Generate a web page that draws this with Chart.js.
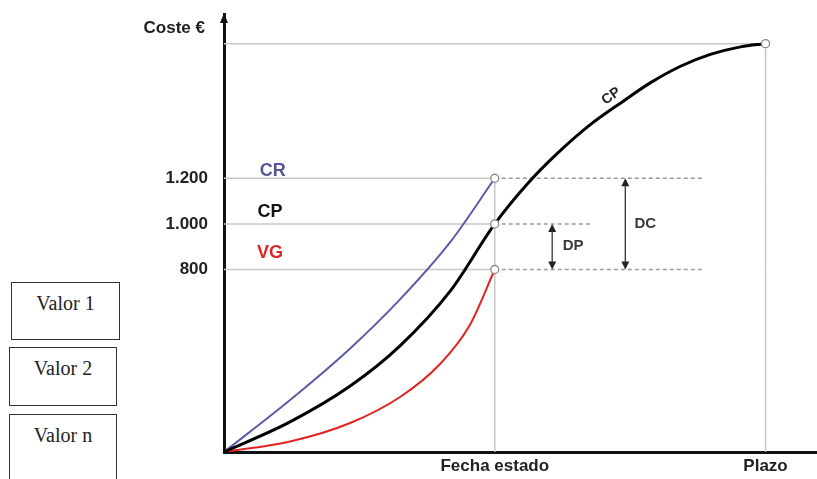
<!DOCTYPE html>
<html>
<head>
<meta charset="utf-8">
<script src="https://cdn.jsdelivr.net/npm/chart.js@4.4.1/dist/chart.umd.min.js"></script>
<style>
  body { margin: 0; background: #fff; overflow: hidden; }
  #wrap { position: relative; width: 817px; height: 479px; overflow: hidden; }
  #evChart { position: absolute; left: 0; top: 0; }
  .box { position: absolute; border: 1.5px solid #333; box-sizing: border-box;
         font-family: "Liberation Serif", "Times New Roman", serif; font-size: 20px;
         color: #222; text-align: center; padding-top: 9px; background: #fff; }
</style>
</head>
<body>
<div id="wrap">
  <canvas id="evChart" width="817" height="479"></canvas>
  <div class="box" style="left:11px; top:282px; width:109px; height:58px;">Valor 1</div>
  <div class="box" style="left:9px; top:347px; width:108px; height:59px;">Valor 2</div>
  <div class="box" style="left:9px; top:414px; width:108px; height:80px;">Valor n</div>
</div>
<script>
// tiempo (Plazo = 10) y coste
const xTicks = [5, 10];
const xTickLabels = ['Fecha estado', 'Plazo'];
const yTicks = [800, 1000, 1200];
const yTickLabels = ['800', '1.000', '1.200'];

const cpTime = [0, 1.22, 2.33, 3.25, 4.18, 5, 5.6, 6.16, 6.77, 7.38, 7.87, 8.43, 8.98, 9.54, 10];
const cpCost = [0, 132, 289, 465, 706, 1000, 1175, 1310, 1436, 1539, 1618, 1691, 1743, 1776, 1790];

const crTime = [0, 1.22, 2.33, 3.25, 4.18, 5];
const crCost = [0, 228, 454, 669, 921, 1200];

const vgTime = [0, 1.22, 2.33, 3.25, 3.99, 4.54, 5];
const vgCost = [0, 46, 127, 241, 386, 557, 800];

const markTime = [5, 5, 5, 10];
const markCost = [800, 1000, 1200, 1790];

const toPts = (xs, ys) => xs.map((x, i) => ({ x: x, y: ys[i] }));
const FONT = '"Liberation Sans", Arial, sans-serif';

function arrowHead(c, x, y, dir) {
    c.beginPath();
    c.moveTo(x, y);
    c.lineTo(x - 4, y - 8 * dir);
    c.lineTo(x + 4, y - 8 * dir);
    c.closePath();
    c.fill();
}

const refLines = {
    id: 'refLines',
    beforeDatasetsDraw(chart) {
        const c = chart.ctx, xs = chart.scales.x, ys = chart.scales.y;
        const X = v => xs.getPixelForValue(v), Y = v => ys.getPixelForValue(v);
        c.save();
        c.strokeStyle = '#c8c8c8';
        c.lineWidth = 1.5;
        c.beginPath();
        yTicks.forEach(v => { c.moveTo(X(0), Y(v)); c.lineTo(X(5), Y(v)); });
        c.moveTo(X(0), Y(1790)); c.lineTo(X(10), Y(1790));
        c.moveTo(X(5), Y(0)); c.lineTo(X(5), Y(1200));
        c.moveTo(X(10), Y(0)); c.lineTo(X(10), Y(1790));
        c.stroke();

        c.strokeStyle = '#9a9a9a';
        c.setLineDash([4, 3]);
        c.beginPath();
        c.moveTo(X(5), Y(1200)); c.lineTo(X(8.84), Y(1200));
        c.moveTo(X(5), Y(1000)); c.lineTo(X(6.8), Y(1000));
        c.moveTo(X(5), Y(800)); c.lineTo(X(8.84), Y(800));
        c.stroke();
        c.setLineDash([]);
        c.restore();
    },
    afterDatasetsDraw(chart) {
        const c = chart.ctx, xs = chart.scales.x, ys = chart.scales.y;
        const X = v => xs.getPixelForValue(v), Y = v => ys.getPixelForValue(v);
        c.save();
        // flechas DP y DC
        c.strokeStyle = '#222';
        c.fillStyle = '#222';
        c.lineWidth = 1.2;
        [[6.06, 1000, 800], [7.41, 1200, 800]].forEach(([x, top, bot]) => {
            c.beginPath();
            c.moveTo(X(x), Y(top) + 4); c.lineTo(X(x), Y(bot) - 4);
            c.stroke();
            arrowHead(c, X(x), Y(top), -1);
            arrowHead(c, X(x), Y(bot), 1);
        });
        c.fillStyle = '#3a3a3a';
        c.font = 'bold 15px ' + FONT;
        c.textAlign = 'center';
        c.textBaseline = 'middle';
        c.fillText('DP', X(6.06) + 21, (Y(1000) + Y(800)) / 2 - 1);
        c.fillText('DC', X(7.41) + 20, Y(1000));

        // etiquetas de series
        c.font = 'bold 18px ' + FONT;
        c.fillStyle = '#55559a';
        c.fillText('CR', X(0.9), Y(1200) - 7);
        c.fillStyle = '#111';
        c.fillText('CP', X(0.85), Y(1000) - 12);
        c.fillStyle = '#e02424';
        c.fillText('VG', X(0.85), Y(800) - 16);

        // CP sobre la curva
        c.save();
        c.translate(X(7.15), Y(1560));
        c.rotate(-0.62);
        c.font = 'bold 14px ' + FONT;
        c.fillStyle = '#222';
        c.fillText('CP', 0, 0);
        c.restore();

        // eje Y con flecha y título
        const ax = xs.left;
        c.fillStyle = '#111';
        c.beginPath();
        c.moveTo(ax, chart.chartArea.top - 1);
        c.lineTo(ax - 4, chart.chartArea.top + 9);
        c.lineTo(ax + 4, chart.chartArea.top + 9);
        c.closePath();
        c.fill();
        c.font = 'bold 17px ' + FONT;
        c.fillStyle = '#222';
        c.textAlign = 'right';
        c.fillText('Coste €', ax - 19, chart.chartArea.top + 14);
        c.restore();
    }
};

const ctx = document.getElementById('evChart').getContext('2d');
new Chart(ctx, {
    type: 'line',
    data: {
        datasets: [
            {
                label: 'marcas',
                data: toPts(markTime, markCost),
                showLine: false,
                pointRadius: 4,
                pointBackgroundColor: '#fff',
                pointBorderColor: '#8a8a8a',
                pointBorderWidth: 1.3
            },
            {
                label: 'CP',
                data: toPts(cpTime, cpCost),
                borderColor: '#000',
                borderWidth: 3,
                pointRadius: 0,
                cubicInterpolationMode: 'monotone'
            },
            {
                label: 'CR',
                data: toPts(crTime, crCost),
                borderColor: '#5b5ba6',
                borderWidth: 2,
                pointRadius: 0,
                cubicInterpolationMode: 'monotone'
            },
            {
                label: 'VG',
                data: toPts(vgTime, vgCost),
                borderColor: '#e32222',
                borderWidth: 2,
                pointRadius: 0,
                cubicInterpolationMode: 'monotone'
            }
        ]
    },
    options: {
        responsive: false,
        animation: false,
        layout: { autoPadding: false, padding: { top: 14, right: 0, left: 0, bottom: 0 } },
        plugins: {
            legend: { display: false },
            tooltip: { enabled: false }
        },
        scales: {
            x: {
                type: 'linear',
                min: 0,
                max: 10.95,
                grid: { display: false, drawTicks: false },
                border: { display: true, color: '#111', width: 3 },
                afterBuildTicks: s => { s.ticks = xTicks.map(v => ({ value: v })); },
                afterFit: s => { s.height = 27; s.paddingLeft = 0; s.paddingRight = 0; },
                ticks: {
                    padding: 4,
                    color: '#222',
                    font: { family: FONT, size: 17, weight: 'bold' },
                    callback: v => xTickLabels[xTicks.indexOf(v)]
                }
            },
            y: {
                type: 'linear',
                min: 0,
                max: 1920,
                grid: { display: false, drawTicks: false },
                border: { display: true, color: '#111', width: 3 },
                afterBuildTicks: s => { s.ticks = yTicks.map(v => ({ value: v })); },
                afterFit: s => { s.width = 224; s.paddingTop = 0; s.paddingBottom = 0; },
                ticks: {
                    padding: 16,
                    color: '#222',
                    font: { family: FONT, size: 17, weight: 'bold' },
                    callback: v => yTickLabels[yTicks.indexOf(v)]
                }
            }
        }
    },
    plugins: [refLines]
});
</script>
</body>
</html>
